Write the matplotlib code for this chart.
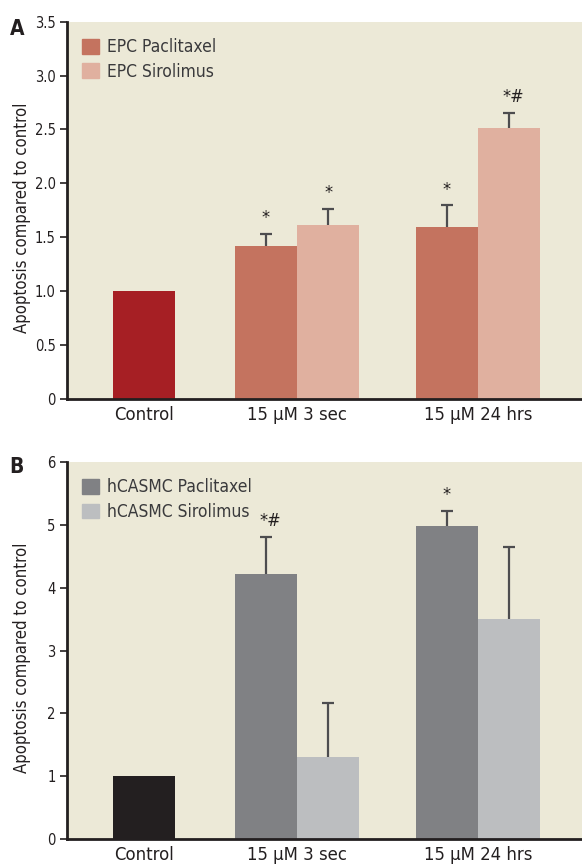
import matplotlib.pyplot as plt
from matplotlib.patches import Patch

# data
groups = ["Control", "15 \u00b5M 3 sec", "15 \u00b5M 24 hrs"]

epc_control = 1.0
epc_pacl = [1.42, 1.595]
epc_pacl_err = [0.11, 0.20]
epc_siro = [1.61, 2.51]
epc_siro_err = [0.155, 0.14]
epc_marks_pacl = ["*", "*"]
epc_marks_siro = ["*", "*#"]

smc_control = 1.0
smc_pacl = [4.22, 4.98]
smc_pacl_err = [0.59, 0.24]
smc_siro = [1.31, 3.50]
smc_siro_err = [0.85, 1.15]
smc_marks_pacl = ["*#", "*"]
smc_marks_siro = ["", ""]

plt.rcParams['font.family'] = ['DejaVu Sans']
plt.rcParams['font.stretch'] = 'condensed'

BG = "#ECE9D7"
INK = "#231F20"
ERR = "#4D4D4F"

# bar layout (bar-width units)
ctrl_x = 1.25
pacl_x = [3.215, 6.13]
siro_x = [4.215, 7.13]
tick_x = [1.25, 3.715, 6.63]
W = 1.0

fig = plt.figure(figsize=(5.82, 8.64), dpi=100)
axA = fig.add_axes([0.1146, 0.5382, 0.8854, 0.4367])
axB = fig.add_axes([0.1146, 0.0289, 0.8854, 0.4364])


def panel(ax, ctrl, pacl, pacl_err, siro, siro_err, mp, ms, colors, labels, ymax, ticks, ticklabels):
    ax.set_facecolor(BG)
    ax.bar(ctrl_x, ctrl, width=W, color=colors[0], zorder=2)
    ax.bar(pacl_x, pacl, width=W, color=colors[1], zorder=2)
    ax.bar(siro_x, siro, width=W, color=colors[2], zorder=2)
    for xs, vs, es in [(pacl_x, pacl, pacl_err), (siro_x, siro, siro_err)]:
        eb = ax.errorbar(xs, vs, yerr=[[0] * len(es), es], fmt="none", ecolor=ERR,
                         elinewidth=1.6, capsize=4.5, capthick=1.6, zorder=3)
        eb[1][0].set_visible(False)
    for xs, vs, es, ms_ in [(pacl_x, pacl, pacl_err, mp), (siro_x, siro, siro_err, ms)]:
        for x, v, e, m in zip(xs, vs, es, ms_):
            if m:
                ax.annotate(m, (x, v + e), xytext=(3 if len(m) > 1 else 0, 5),
                            textcoords="offset points", ha="center", va="bottom",
                            fontsize=13, color=INK)
    ax.set_xlim(0, 8.31)
    ax.set_ylim(0, ymax)
    ax.set_yticks(ticks)
    ax.set_yticklabels(ticklabels)
    ax.set_xticks(tick_x)
    ax.set_xticklabels(groups)
    ax.tick_params(axis="x", length=0, pad=5, labelsize=13.2, colors=INK)
    ax.tick_params(axis="y", length=5, width=1.2, labelsize=10.5, colors=INK, pad=3)
    for s in ["top", "right"]:
        ax.spines[s].set_visible(False)
    for s in ["left", "bottom"]:
        ax.spines[s].set_linewidth(2)
        ax.spines[s].set_color(INK)
    ax.set_ylabel("Apoptosis compared to control", fontsize=12, color=INK)
    ax.yaxis.set_label_coords(-0.069, 0.48)
    handles = [Patch(color=colors[1], label=labels[0]), Patch(color=colors[2], label=labels[1])]
    ax.legend(handles=handles, loc="upper left", bbox_to_anchor=(0.0, 0.998),
              frameon=False, fontsize=12.5, handlelength=0.95, handleheight=0.95,
              handletextpad=0.45, labelspacing=0.38, labelcolor="#3A3A3C")


panel(axA, epc_control, epc_pacl, epc_pacl_err, epc_siro, epc_siro_err,
      epc_marks_pacl, epc_marks_siro, ["#A61F24", "#C4735F", "#E0B09F"],
      ["EPC Paclitaxel", "EPC Sirolimus"], 3.5,
      [0, 0.5, 1.0, 1.5, 2.0, 2.5, 3.0, 3.5],
      ["0", "0.5", "1.0", "1.5", "2.0", "2.5", "3.0", "3.5"])
panel(axB, smc_control, smc_pacl, smc_pacl_err, smc_siro, smc_siro_err,
      smc_marks_pacl, smc_marks_siro, ["#231F20", "#808184", "#BCBEC0"],
      ["hCASMC Paclitaxel", "hCASMC Sirolimus"], 6,
      [0, 1, 2, 3, 4, 5, 6], ["0", "1", "2", "3", "4", "5", "6"])

fig.text(0.029, 0.967, "A", fontsize=15, fontweight="bold", color=INK, ha="center", va="center")
fig.text(0.029, 0.459, "B", fontsize=15, fontweight="bold", color=INK, ha="center", va="center")

fig.savefig("out.png", dpi=100)
